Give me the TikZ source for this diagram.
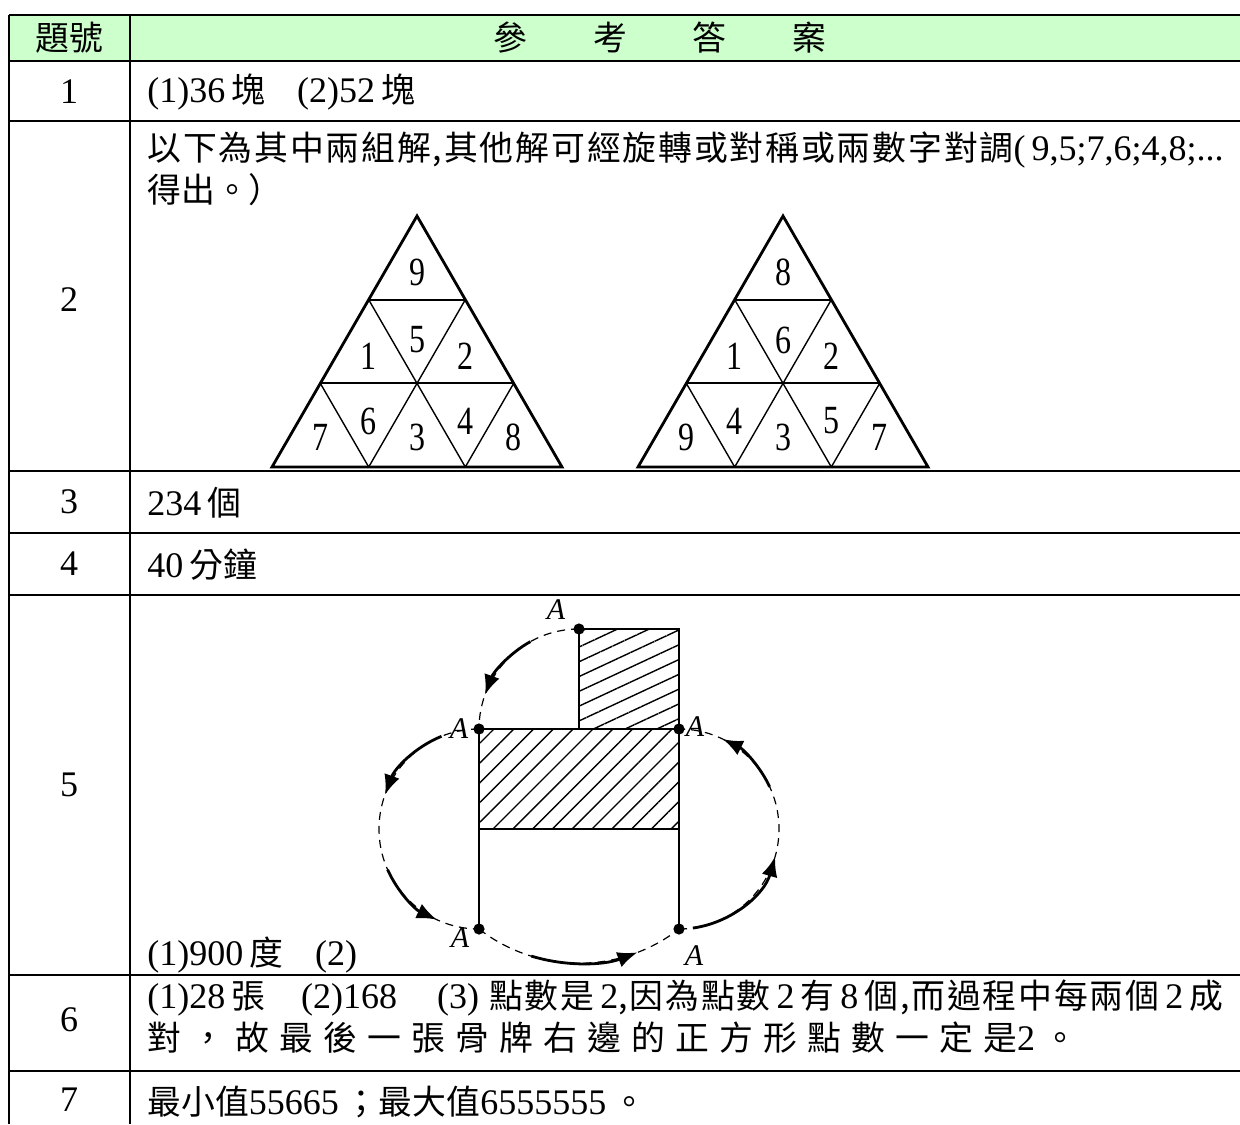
\documentclass[tikz,border=0pt]{standalone}
\usepackage{fontspec}
\setmainfont{Liberation Serif}
\newfontfamily\cjkfont[Scale=0.94]{Noto Sans CJK TC}
\newfontfamily\cjkwide[Scale=0.94,LetterSpace=5.5]{Noto Sans CJK TC}
\newfontfamily\cjkwider[Scale=0.94,LetterSpace=30]{Noto Sans CJK TC}
\usetikzlibrary{arrows.meta,calc,patterns.meta}
\definecolor{headgreen}{RGB}{204,255,204}
\newcommand{\zh}[1]{{\cjkfont #1}}
\newcommand{\zhw}[1]{{\cjkwide #1}}

\tikzset{
  rule/.style={line width=1.3pt},
  cell/.style={anchor=west, inner sep=0pt, font=\fontsize{18}{22}\selectfont},
  num/.style={inner sep=0pt, font=\fontsize{18}{22}\selectfont},
  digit/.style={inner sep=0pt, xscale=0.8, font=\fontsize{20}{22}\selectfont},
  outer/.style={line width=1.4pt, line join=miter},
  mid/.style={line width=1.1pt},
  inner/.style={line width=0.7pt},
  box/.style={line width=1.1pt},
  track/.style={line width=0.6pt, dash pattern=on 4pt off 3pt},
  move/.style={line width=1.4pt, -{Latex[length=10pt,width=8pt]}},
  lbl/.style={inner sep=0pt, font=\fontsize{15}{17}\selectfont\itshape}
}

\begin{document}
\begin{tikzpicture}[x=0.5pt, y=-0.5pt]
    \useasboundingbox (0,0) rectangle (1240,1124);
    % table
    \fill[headgreen] (9,15) rectangle (1240,61);
    \draw[rule] (9,15) -- (1240,15) (9,61) -- (1240,61) (9,121) -- (1240,121)
      (9,471) -- (1240,471) (9,533) -- (1240,533) (9,595) -- (1240,595)
      (9,975) -- (1240,975) (9,1071) -- (1240,1071);
    \draw[rule] (9,15) -- (9,1124) (130,15) -- (130,1124);

    \node[num] (h1) at (69,38) {\zh{題號}};
    \node[num] (h2) at (660,38) {\zh{參\hspace{33pt}考\hspace{33pt}答\hspace{33pt}案}};
    \node[num] (n1) at (69,92) {1};
    \node[num] (n2) at (69,300) {2};
    \node[num] (n3) at (69,502) {3};
    \node[num] (n4) at (69,564) {4};
    \node[num] (n5) at (69,785) {5};
    \node[num] (n6) at (69,1020) {6};
    \node[num] (n7) at (69,1100) {7};

    \node[cell] (a1) at (147,92) {(1)36\,\zh{塊}\hspace{16pt}(2)52\,\zh{塊}};
    \node[cell] (a2) at (147,150) {\zhw{以下為其中兩組解,其他解可經旋轉或對稱或兩數字對調}(\,9,5;7,6;4,8;...};
    \node[cell] (a2b) at (147,190) {\zh{得出。）}};
    \node[cell] (a3) at (147,503) {234\,\zh{個}};
    \node[cell] (a4) at (147,565) {40\,\zh{分鐘}};
    \node[cell] (a5) at (147,955) {(1)900\,\zh{度}\hspace{16pt}(2)};
    \node[cell] (a6) at (147,998) {(1)28\,\zh{張}\hspace{18pt}(2)168\hspace{20pt}(3)\hspace{5pt}\zhw{點數是}\,2\zhw{,因為點數}\,2\,\zhw{有}\,8\,\zhw{個,而過程中每兩個}\,2\,\zhw{成}};
    \node[cell] (a6b) at (147,1038) {{\cjkwider 對，故最後一張骨牌右邊的正方形點數一定是}2\hspace{4pt}\zh{。}};
    \node[cell] (a7) at (147,1102) {\zh{最小值}55665\,\zh{；最大值}6555555\,\zh{。}};

    % left triangle
    \begin{scope}[shift={(417,216)}]
      \draw[outer] (0,0) -- (145,251) -- (-145,251) -- cycle;
      \draw[mid] (-48.3,83.7) -- (48.3,83.7) (-96.7,167.3) -- (96.7,167.3);
      \draw[inner] (-48.3,251) -- (48.3,83.7) (48.3,251) -- (96.7,167.3)
        (48.3,251) -- (-48.3,83.7) (-48.3,251) -- (-96.7,167.3);
      \node[digit] (la) at (0,56) {9};
      \node[digit] (lb) at (-48.3,140) {1};
      \node[digit] (lc) at (0,124) {5};
      \node[digit] (ld) at (48.3,140) {2};
      \node[digit] (le) at (-96.7,221) {7};
      \node[digit] (lf) at (-48.3,205) {6};
      \node[digit] (lg) at (0,221) {3};
      \node[digit] (lh) at (48.3,205) {4};
      \node[digit] (li) at (96.7,221) {8};
    \end{scope}
    % right triangle
    \begin{scope}[shift={(783,216)}]
      \draw[outer] (0,0) -- (145,251) -- (-145,251) -- cycle;
      \draw[mid] (-48.3,83.7) -- (48.3,83.7) (-96.7,167.3) -- (96.7,167.3);
      \draw[inner] (-48.3,251) -- (48.3,83.7) (48.3,251) -- (96.7,167.3)
        (48.3,251) -- (-48.3,83.7) (-48.3,251) -- (-96.7,167.3);
      \node[digit] (ra) at (0,56) {8};
      \node[digit] (rb) at (-48.3,140) {1};
      \node[digit] (rc) at (0,124) {6};
      \node[digit] (rd) at (48.3,140) {2};
      \node[digit] (re) at (-96.7,221) {9};
      \node[digit] (rf) at (-48.3,205) {4};
      \node[digit] (rg) at (0,221) {3};
      \node[digit] (rh) at (48.3,205) {5};
      \node[digit] (ri) at (96.7,221) {7};
    \end{scope}

    % rolling piece
    \fill[pattern={Lines[angle=25,distance=6.7pt,line width=0.7pt]}] (579,629) rectangle (679,729);
    \fill[pattern={Lines[angle=45,distance=7pt,line width=0.7pt]}] (479,729) rectangle (679,829);
    \draw[box] (579,629) rectangle (679,729);
    \draw[box] (479,729) rectangle (679,829);
    \draw[box] (479,829) -- (479,929) (679,829) -- (679,929);

    \coordinate (c1) at (579,729);
    \coordinate (c2) at (479,829);
    \coordinate (c3) at (579,800);
    \coordinate (c4) at (679,829);
    \coordinate (At) at (579,629);
    \coordinate (Al) at (479,729);
    \coordinate (Ar) at (679,729);
    \coordinate (Abl) at (479,929);
    \coordinate (Abr) at (679,929);

    \draw[track] (At) arc[start angle=90, end angle=180, radius=50pt];
    \draw[move] ($(c1)+(119:50pt)$) arc[start angle=119, end angle=160, radius=50pt];
    \draw[track] (Al) arc[start angle=90, end angle=270, radius=50pt];
    \draw[move] ($(c2)+(112:50pt)$) arc[start angle=112, end angle=160, radius=50pt];
    \draw[move] ($(c2)+(204:50pt)$) arc[start angle=204, end angle=245, radius=50pt];
    \draw[track] (Abl) arc[start angle=232.2, end angle=307.8, radius=81.6pt];
    \draw[move] ($(c3)+(253:81.6pt)$) arc[start angle=253, end angle=291, radius=81.6pt];
    \draw[track] (Abr) arc[start angle=-90, end angle=90, radius=50pt];
    \draw[move] ($(c4)+(-82:50pt)$) arc[start angle=-82, end angle=-16, radius=50pt];
    \draw[move] ($(c4)+(25:50pt)$) arc[start angle=25, end angle=64, radius=50pt];

    \fill (At) circle[radius=2.8pt];
    \fill (Al) circle[radius=2.8pt];
    \fill (Ar) circle[radius=2.8pt];
    \fill (Abl) circle[radius=2.8pt];
    \fill (Abr) circle[radius=2.8pt];
    \node[lbl] (lt) at (556,610) {A};
    \node[lbl] (ll) at (459,729) {A};
    \node[lbl] (lr) at (695,727) {A};
    \node[lbl] (lbl) at (460,938) {A};
    \node[lbl] (lbr) at (694,956) {A};
  \end{tikzpicture}
\end{document}
